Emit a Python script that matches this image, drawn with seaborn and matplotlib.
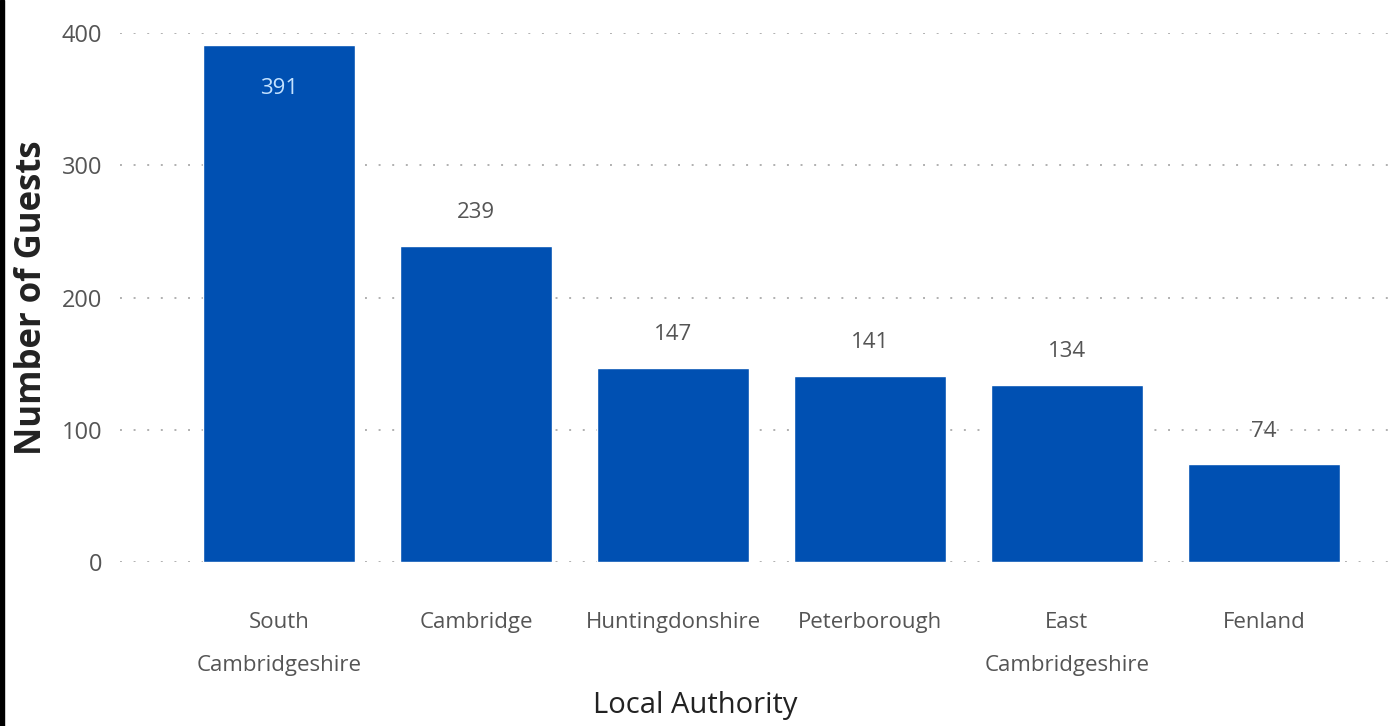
import pandas as pd
import matplotlib.pyplot as plt
import matplotlib.patches as mpatches
import seaborn as sns

authorities = ["South\nCambridgeshire", "Cambridge", "Huntingdonshire",
               "Peterborough", "East\nCambridgeshire", "Fenland"]
guests = [391, 239, 147, 141, 134, 74]
y_ticks = [0, 100, 200, 300, 400]

df = pd.DataFrame({"Local Authority": authorities, "Number of Guests": guests})

sns.set_style("white")
plt.rcParams["font.family"] = ["Open Sans", "DejaVu Sans"]

fig = plt.figure(figsize=(13.89, 7.26), dpi=100)
ax = fig.add_axes([0.0864, 0.2259, 0.9136, 0.7286])

sns.barplot(data=df, x="Local Authority", y="Number of Guests", color="#0050B2",
            saturation=1, width=0.77, ax=ax)

ax.set_ylim(0, 400)
ax.set_xlim(-0.807, 5.635)
ax.set_yticks(y_ticks)
ax.yaxis.grid(True, linestyle=(0, (1, 6)), color="#b0b0b0", linewidth=1.4)
ax.set_axisbelow(True)
for s in ax.spines.values():
    s.set_visible(False)
ax.tick_params(axis="both", length=0, labelcolor="#555555")
ax.tick_params(axis="y", pad=13, labelsize=17)
ax.tick_params(axis="x", pad=36, labelsize=16)
for lbl in ax.get_xticklabels():
    lbl.set_linespacing(2.4)

ax.set_ylabel("Number of Guests", fontsize=25, fontweight="bold", color="#222222")
ax.yaxis.set_label_coords(-0.0693, 0.5)
ax.yaxis.label.set_va("center")
ax.set_xlabel("Local Authority", fontsize=21, color="#222222")
ax.xaxis.set_label_coords(0.453, -0.272)
ax.xaxis.label.set_va("center")

for i, v in enumerate(guests):
    if v > 300:
        ax.text(i, v - 33, str(v), ha="center", va="center", fontsize=16, color="#c4e2ff")
    else:
        ax.text(i, v + 25, str(v), ha="center", va="center", fontsize=16, color="#555555")

# thin dark frame strip on the left edge
fig.patches.append(mpatches.Rectangle((0, 0), 0.003, 1, transform=fig.transFigure,
                                      color="black", zorder=10))

fig.savefig("out.png", dpi=100)
